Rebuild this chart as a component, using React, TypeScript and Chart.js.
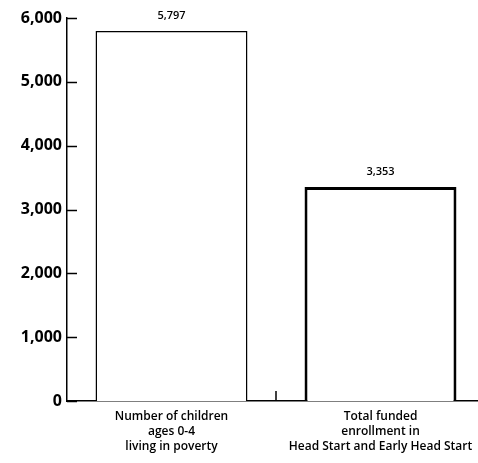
import React, { useEffect, useRef } from "react";
import { Chart, registerables } from "chart.js";

Chart.register(...registerables);

const categories: string[][] = [
  ["Number of children", "ages 0-4", "living in poverty"],
  ["Total funded", "enrollment in", "Head Start and Early Head Start"],
];
const values: number[] = [5797, 3353];
const valueLabels: string[] = ["5,797", "3,353"];
const yTicks: number[] = [0, 1000, 2000, 3000, 4000, 5000, 6000];

const FONT = "'Open Sans', 'DejaVu Sans', sans-serif";

const innerTicks = {
  id: "innerTicks",
  afterDraw(chart: any) {
    const ctx = chart.ctx;
    const y = chart.scales.y;
    const x = chart.scales.x;
    ctx.save();
    ctx.strokeStyle = "#000";
    ctx.lineWidth = 1.5;
    yTicks.forEach((v) => {
      const py = Math.round(y.getPixelForValue(v)) + 0.5;
      ctx.beginPath();
      ctx.moveTo(x.left, py);
      ctx.lineTo(x.left + 10, py);
      ctx.stroke();
    });
    // tick between categories
    const mid = (x.getPixelForValue(0) + x.getPixelForValue(1)) / 2;
    ctx.beginPath();
    ctx.moveTo(mid, y.bottom);
    ctx.lineTo(mid, y.bottom - 10);
    ctx.stroke();
    // value labels
    const meta = chart.getDatasetMeta(0);
    ctx.fillStyle = "#000";
    ctx.font = `600 11px ${FONT}`;
    ctx.textAlign = "center";
    ctx.textBaseline = "middle";
    meta.data.forEach((bar: any, i: number) => {
      ctx.fillText(valueLabels[i], bar.x, bar.y - 15);
    });
    ctx.restore();
  },
};

export default function App() {
  const ref = useRef<HTMLCanvasElement>(null);
  useEffect(() => {
    if (!ref.current) return;
    const chart = new Chart(ref.current, {
      type: "bar",
      data: {
        labels: categories,
        datasets: [
          {
            data: values,
            backgroundColor: "#ffffff",
            borderColor: "#000000",
            borderWidth: [1.5, 3] as any,
            barPercentage: 0.727,
            categoryPercentage: 1,
          },
        ],
      },
      options: {
        animation: false,
        responsive: false,
        maintainAspectRatio: false,
        layout: { padding: { left: 0, right: 15, top: 18, bottom: 0 } },
        plugins: { legend: { display: false }, tooltip: { enabled: false } },
        scales: {
          x: {
            grid: { display: false, drawTicks: false },
            border: { display: true, color: "#000", width: 1.5 },
            ticks: {
              color: "#000",
              padding: 8,
              maxRotation: 0,
              autoSkip: false,
              font: { family: FONT, size: 12, weight: "600" as any, lineHeight: 1.25 },
            },
            afterFit: (s: any) => {
              s.height = 62;
            },
          },
          y: {
            min: 0,
            max: 6000,
            grid: { display: false, drawTicks: false },
            border: { display: true, color: "#000", width: 1.5 },
            ticks: {
              stepSize: 1000,
              color: "#000",
              padding: 5,
              font: { family: FONT, size: 16, weight: "bold" as any },
              callback: (v: any) => Number(v).toLocaleString("en-US"),
            },
            afterFit: (s: any) => {
              s.width = 67;
            },
          },
        },
      },
      plugins: [innerTicks],
    });
    return () => chart.destroy();
  }, []);
  return (
    <div
      style={{
        position: "fixed",
        left: 0,
        top: 0,
        width: 478,
        height: 463,
        overflow: "hidden",
        background: "#fff",
      }}
    >
      <canvas ref={ref} width={500} height={463} style={{ display: "block" }} />
    </div>
  );
}
